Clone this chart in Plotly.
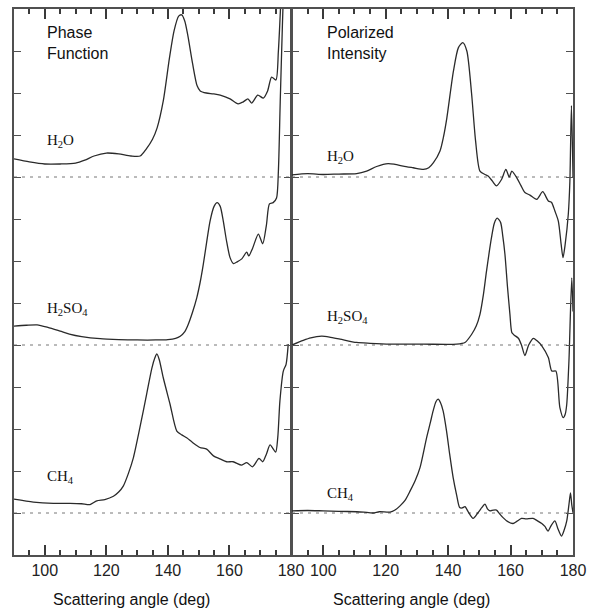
import plotly.graph_objects as go

# ---------------- data (absolute plotted values; baselines at 9, 5, 1) -------------
species = ["H2O", "H2SO4", "CH4"]
baselines = [9, 5, 1]

# Left panel: Phase Function
pf_h2o_x = [90, 95, 100, 105, 110, 113, 116, 120, 124, 128, 131, 133, 135, 136.5, 138.5,
            140.5, 142, 143.5, 144.5, 145.5, 146.5, 148, 149.5, 150.5, 152.5, 154.7, 157,
            160.2, 162.8, 164.5, 166, 167.2, 169.2, 171, 172.4, 173.7, 175.1, 175.9, 176.7,
            177.5, 179.5, 179.9]
pf_h2o_y = [9.43, 9.36, 9.31, 9.31, 9.33, 9.40, 9.50, 9.57, 9.55, 9.50, 9.50, 9.67, 9.90,
            10.17, 10.81, 11.83, 12.48, 12.83, 12.86, 12.71, 12.36, 11.71, 11.17, 11.05,
            11.00, 10.98, 10.95, 10.86, 10.74, 10.79, 10.86, 10.76, 10.95, 10.88, 11.05,
            11.38, 11.31, 12.00, 13.19, 14.5, 14.5, 11.9]

pf_h2so4_x = [90, 94, 97.5, 101, 105, 108, 112, 118, 124, 130, 136, 140, 142.5, 144, 145.5,
              146.6, 148, 149.4, 150.5, 151.5, 152.6, 153.7, 155, 156, 157, 158, 159, 160.2,
              161.3, 162.5, 164, 165.6, 166.3, 167.5, 169.4, 170.8, 172, 173, 174.2, 175.3,
              175.9, 176.5, 177.2, 177.8]
pf_h2so4_y = [5.45, 5.47, 5.48, 5.42, 5.33, 5.26, 5.20, 5.15, 5.13, 5.12, 5.12, 5.13, 5.16,
              5.21, 5.32, 5.49, 5.78, 6.13, 6.50, 6.92, 7.45, 7.95, 8.30, 8.39, 8.30, 7.95,
              7.50, 7.08, 6.94, 6.98, 7.05, 7.21, 7.12, 7.30, 7.64, 7.41, 7.85, 8.36, 8.39,
              8.50, 9.14, 10.8, 12.6, 14.0]

pf_ch4_x = [90, 96.3, 102.8, 108.2, 112, 114.7, 116.9, 119.5, 122.3, 124, 125.5, 127.2,
            128.8, 130.9, 133.1, 134.8, 135.8, 136.4, 137.2, 138.5, 140.7, 142.9, 144.5,
            146.1, 148, 150.4, 152.6, 154.8, 156.9, 159.1, 161.2, 164, 165.6, 167.5, 169.6,
            170.8, 172, 173.2, 175, 175.7, 176.4, 177.5, 178.4, 179.1]
pf_ch4_y = [1.33, 1.26, 1.23, 1.23, 1.22, 1.20, 1.29, 1.32, 1.40, 1.50, 1.64, 1.95, 2.32,
            3.03, 3.83, 4.45, 4.70, 4.79, 4.65, 4.22, 3.59, 2.95, 2.86, 2.79, 2.68, 2.56,
            2.52, 2.36, 2.29, 2.22, 2.22, 2.14, 2.20, 2.10, 2.30, 2.22, 2.40, 2.62, 2.45,
            2.80, 3.67, 4.38, 4.54, 5.02]

# Right panel: Polarized Intensity
pi_h2o_x = [90, 95, 100, 105, 110.7, 113.9, 117.1, 120.8, 123, 125.6, 128.8, 132.1, 133.8,
            135.3, 137.4, 138.5, 139.6, 141.7, 143.3, 144.7, 146, 147.5, 148.8, 150.2,
            151.8, 152.9, 154.2, 155.5, 157.1, 158.5, 159.6, 160.4, 162, 163.3, 164.6,
            166.2, 168.4, 170.3, 172.1, 173.1, 174.2, 175.3, 176.2, 176.8, 177.5, 178.5,
            179, 179.5, 180]
pi_h2o_y = [9.05, 9.08, 9.06, 9.07, 9.08, 9.14, 9.25, 9.32, 9.30, 9.26, 9.22, 9.18, 9.22,
            9.34, 9.62, 9.95, 10.41, 11.52, 12.08, 12.20, 12.00, 11.00, 9.86, 9.14, 9.06,
            9.02, 8.90, 8.79, 8.94, 9.18, 9.00, 9.14, 8.98, 8.80, 8.63, 8.57, 8.47, 8.65,
            8.43, 8.40, 8.19, 7.95, 7.40, 7.08, 7.40, 8.12, 8.90, 10.70, 9.00]

pi_h2so4_x = [90, 93.6, 96, 99.5, 102, 105.4, 110.7, 115, 121.4, 132.1, 142.7, 145.4, 147.5,
              149, 150.2, 151.3, 152.3, 153.9, 154.8, 155.7, 156.8, 157.5, 158.2, 159,
              159.8, 160.4, 161.1, 162.5, 163.5, 164.6, 165.8, 167.3, 168.5, 170, 172.1,
              173.2, 174.5, 175.8, 176.9, 177.5, 178, 178.7, 179.6, 180]
pi_h2so4_y = [5.00, 5.11, 5.17, 5.21, 5.19, 5.14, 5.06, 5.04, 5.02, 5.02, 5.02, 5.06, 5.25,
              5.45, 5.73, 6.20, 6.76, 7.56, 7.90, 8.02, 7.92, 7.60, 7.16, 6.40, 5.73, 5.30,
              5.24, 5.16, 5.00, 4.75, 5.00, 5.16, 5.10, 4.98, 4.70, 4.38, 4.38, 3.51, 3.27,
              3.35, 3.59, 4.62, 6.60, 5.80]

pi_ch4_x = [90, 95, 100, 105, 110.7, 113, 116, 118, 121.4, 123, 124.6, 126.2, 127.8, 129.5,
            131, 133.1, 134.3, 135.2, 136.1, 136.8, 137.6, 138.4, 139.5, 140.5, 141.6,
            142.7, 143.7, 144.5, 145.4, 146.5, 148, 149.5, 150.7, 151.8, 152.6, 153.4,
            154.5, 155.5, 156.5, 157.6, 159, 160.8, 162, 163.5, 165, 167.2, 168.5, 170,
            171, 172, 173, 174.2, 175.2, 176.3, 177.2, 178, 178.7, 179.2, 179.6, 180]
pi_ch4_y = [1.05, 1.06, 1.05, 1.04, 1.03, 1.02, 1.00, 1.03, 1.02, 1.07, 1.17, 1.30, 1.52,
            1.78, 2.08, 2.79, 3.15, 3.43, 3.65, 3.71, 3.62, 3.43, 2.95, 2.40, 1.85, 1.44,
            1.13, 1.12, 1.15, 1.02, 0.87, 1.00, 1.12, 1.21, 1.10, 1.05, 1.07, 1.07, 0.98,
            0.89, 0.80, 0.75, 0.80, 0.87, 0.86, 0.87, 0.82, 0.75, 0.68, 0.57, 0.70, 0.81,
            0.62, 0.45, 0.60, 0.81, 1.20, 1.48, 1.20, 1.01]

x_major_start, x_major_step = 100, 20
x_minor_start, x_minor_step = 90, 5
panel_titles = ["Phase<br>Function", "Polarized<br>Intensity"]
species_labels = ["H<sub>2</sub>O", "H<sub>2</sub>SO<sub>4</sub>", "CH<sub>4</sub>"]
x_title = "Scattering angle (deg)"

# ---------------- figure ----------------
W, H = 593, 610
ML, MR, MT, MB = 14, 19, 7, 55
fig = go.Figure()

LINE = "#2a2a2a"
FRAME = "#505050"
TICK = "#3a3a3a"

panels = [
    ("x", "y", [(pf_h2o_x, pf_h2o_y), (pf_h2so4_x, pf_h2so4_y), (pf_ch4_x, pf_ch4_y)]),
    ("x2", "y2", [(pi_h2o_x, pi_h2o_y), (pi_h2so4_x, pi_h2so4_y), (pi_ch4_x, pi_ch4_y)]),
]

for xa, ya, curves in panels:
    for b in baselines:
        fig.add_trace(go.Scatter(x=[90, 180], y=[b, b], xaxis=xa, yaxis=ya, mode="lines",
                                 line=dict(color="#777777", width=1, dash="3px,5px"),
                                 hoverinfo="skip", showlegend=False))
    for cx, cy in curves:
        fig.add_trace(go.Scatter(x=cx, y=cy, xaxis=xa, yaxis=ya, mode="lines",
                                 line=dict(color=LINE, width=1.3, shape="spline", smoothing=0.7),
                                 showlegend=False))

# major x ticks + labels (mirrored to the top)
xcommon = dict(range=[90, 180], tickmode="linear", tick0=x_major_start, dtick=x_major_step,
               ticks="inside", ticklen=10, tickwidth=1.5, tickcolor=TICK, showline=True,
               linecolor=FRAME, linewidth=1.5, mirror="ticks", showgrid=False, zeroline=False,
               layer="above traces",
               tickfont=dict(family="Liberation Sans, Arial, sans-serif", size=16, color="#222"))
# minor x ticks on an overlaid axis (mirrored to the top)
xminor = dict(range=[90, 180], tickmode="linear", tick0=x_minor_start, dtick=x_minor_step,
              ticks="inside", ticklen=5, tickwidth=1.5, tickcolor=TICK, showticklabels=False,
              showline=False, mirror="ticks", showgrid=False, zeroline=False, side="bottom",
              layer="above traces")
ycommon = dict(range=[0, 13], tickmode="linear", tick0=0, dtick=1, ticks="inside", ticklen=7,
               tickwidth=1, tickcolor=FRAME, showticklabels=False, showline=True,
               linecolor=FRAME, linewidth=1.5, mirror="ticks", showgrid=False, zeroline=False)

plot_w = W - ML - MR
left_end = (291.5 - ML) / plot_w
right_start = (292.5 - ML) / plot_w

fig.update_layout(
    width=W, height=H, margin=dict(l=ML, r=MR, t=MT, b=MB),
    paper_bgcolor="white", plot_bgcolor="white", showlegend=False,
    xaxis=dict(domain=[0, left_end], anchor="y", **xcommon),
    yaxis=dict(domain=[0, 1], anchor="x", **ycommon),
    xaxis2=dict(domain=[right_start, 1], anchor="y2", **xcommon),
    yaxis2=dict(domain=[0, 1], anchor="x2", **ycommon),
    xaxis3=dict(overlaying="x", anchor="y", **xminor),
    xaxis4=dict(overlaying="x2", anchor="y2", **xminor),
)
# invisible traces so the minor-tick axes are drawn
fig.add_trace(go.Scatter(x=[90], y=[0], xaxis="x3", yaxis="y", mode="markers",
                         marker=dict(opacity=0), hoverinfo="skip", showlegend=False))
fig.add_trace(go.Scatter(x=[90], y=[0], xaxis="x4", yaxis="y2", mode="markers",
                         marker=dict(opacity=0), hoverinfo="skip", showlegend=False))

sans = "Liberation Sans, Arial, sans-serif"
serif = "Liberation Serif, Times New Roman, serif"

# panel titles
fig.add_annotation(x=100.2, y=12.2, xref="x", yref="y", text=panel_titles[0], showarrow=False,
                   xanchor="left", yanchor="middle", align="left",
                   font=dict(family=sans, size=16, color="#111"))
fig.add_annotation(x=100.5, y=12.2, xref="x2", yref="y2", text=panel_titles[1], showarrow=False,
                   xanchor="left", yanchor="middle", align="left",
                   font=dict(family=sans, size=16, color="#111"))

# species labels
left_label_y = [9.85, 5.85, 1.85]
right_label_y = [9.47, 5.66, 1.45]
for lab, yl, yr in zip(species_labels, left_label_y, right_label_y):
    fig.add_annotation(x=100.0, y=yl, xref="x", yref="y", text=lab, showarrow=False,
                       xanchor="left", yanchor="middle",
                       font=dict(family=serif, size=15, color="#111"))
    fig.add_annotation(x=100.6, y=yr, xref="x2", yref="y2", text=lab, showarrow=False,
                       xanchor="left", yanchor="middle",
                       font=dict(family=serif, size=15, color="#111"))

# axis titles
for xpx in (132, 412):
    fig.add_annotation(x=(xpx - ML) / plot_w, y=-(600 - 555) / (H - MT - MB), xref="paper",
                       yref="paper", text=x_title, showarrow=False, xanchor="center",
                       yanchor="middle", font=dict(family=sans, size=16, color="#111"))

fig.write_html("out.html", config={"displayModeBar": False},
               post_script="document.body.style.margin='0';document.body.style.overflow='hidden';")
